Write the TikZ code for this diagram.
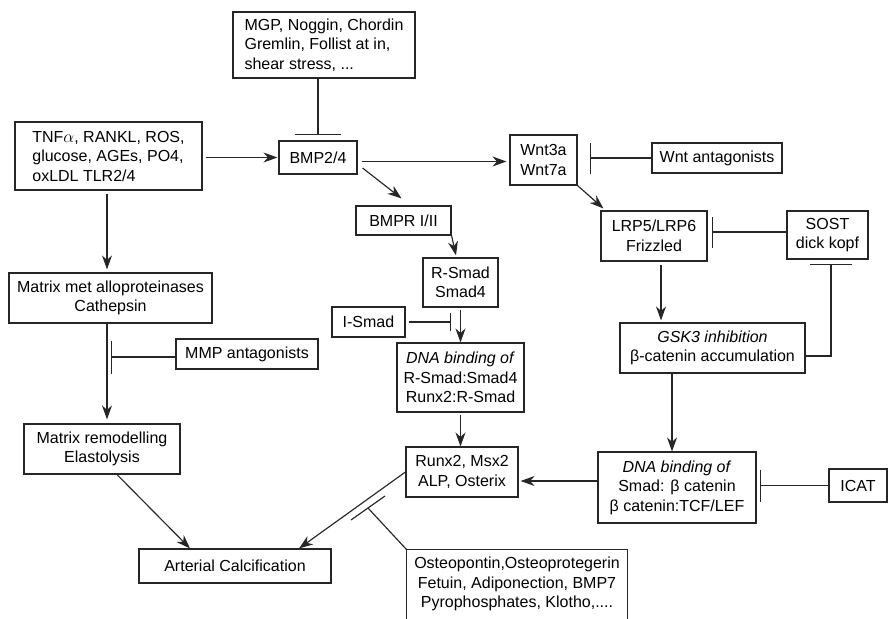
\documentclass[tikz,border=0pt]{standalone}
\usepackage{fontspec}
\setmainfont{Liberation Sans}
\usetikzlibrary{arrows.meta}
\begin{document}
\begin{tikzpicture}[x=1pt,y=-1pt,
 box/.style={draw=black!85, line width=1.15pt, inner sep=0pt, align=center, font=\fontsize{16}{19.5}\selectfont},
 arr/.style={draw=black!85, line width=1.15pt, -{Stealth[length=14pt,width=10pt,inset=4.5pt]}},
 inh/.style={draw=black!85, line width=1.15pt, -{Bar[width=#1]}},
 plain/.style={draw=black!85, line width=1.15pt}]
\useasboundingbox (0,0) rectangle (888,618);
% nodes
\node[box,align=left,minimum width=182pt,minimum height=66pt] (mgp) at (324,45) {MGP, Noggin, Chordin\\Gremlin, Follist at in,\\shear stress, ...};
\node[box,align=left,minimum width=187pt,minimum height=68pt] (tnf) at (108.5,156) {TNF$\alpha$, RANKL, ROS,\\glucose, AGEs, PO4,\\oxLDL TLR2/4};
\node[box,minimum width=78pt,minimum height=33pt] (bmp) at (318,157.5) {BMP2/4};
\node[box,minimum width=67pt,minimum height=50pt] (wnt) at (543.5,160) {Wnt3a\\Wnt7a};
\node[box,minimum width=130pt,minimum height=30pt] (wntant) at (717,158) {Wnt antagonists};
\node[box,minimum width=95pt,minimum height=29pt] (bmpr) at (403.5,220.5) {BMPR I/II};
\node[box,minimum width=106pt,minimum height=50pt] (lrp) at (654,236) {LRP5/LRP6\\Frizzled};
\node[box,minimum width=81pt,minimum height=48pt] (sost) at (827.5,235) {SOST\\dick kopf};
\node[box,minimum width=75pt,minimum height=49pt] (rsmad) at (460.5,282.5) {R-Smad\\Smad4};
\node[box,minimum width=73pt,minimum height=30pt] (ismad) at (368.5,322) {I-Smad};
\node[box,minimum width=203pt,minimum height=50pt] (mmpmet) at (110.5,298) {Matrix met alloproteinases\\Cathepsin};
\node[box,minimum width=142pt,minimum height=30pt] (mmpant) at (247,354) {MMP antagonists};
\node[box,minimum width=185pt,minimum height=50pt] (gsk) at (712.5,348) {\textit{GSK3 inhibition}\\β-catenin accumulation};
\node[box,minimum width=127pt,minimum height=69pt] (dnaa) at (460.5,377.5) {\textit{DNA binding of}\\R-Smad:Smad4\\Runx2:R-Smad};
\node[box,minimum width=156pt,minimum height=50pt] (remod) at (102,449) {Matrix remodelling\\Elastolysis};
\node[box,minimum width=112pt,minimum height=50pt] (runx) at (462,472) {Runx2, Msx2\\ALP, Osterix};
\node[box,minimum width=158pt,minimum height=71pt] (dnab) at (677,487.5) {\textit{DNA binding of}\\Smad: β catenin\\β catenin:TCF/LEF};
\node[box,minimum width=58pt,minimum height=33pt] (icat) at (858,485.5) {ICAT};
\node[box,minimum width=192pt,minimum height=34pt] (arter) at (235,566) {Arterial Calcification};
\node[box,draw=none,minimum width=220pt,minimum height=68pt] (osteo) at (517,584) {Osteopontin,Osteoprotegerin\\Fetuin, Adiponection, BMP7\\Pyrophosphates, Klotho,....};
\draw[plain] (osteo.south west) -- (osteo.north west) -- (osteo.north east) -- (osteo.south east);
% coordinates
\coordinate (isbar) at (451,322);
\coordinate (sl) at ([yshift=3pt]sost.west);
\coordinate (lg) at ([xshift=7pt]lrp.south);
\coordinate (gs) at ([yshift=-8pt]gsk.east);
\coordinate (sb) at ([xshift=3.5pt]sost.south);
\coordinate (gd) at ([xshift=-5pt]dnab.north);
\coordinate (rd) at ([yshift=-9pt]runx.east);
\coordinate (tm) at ([xshift=-1.5pt]tnf.south);
\coordinate (mr) at ([xshift=-3.5pt]mmpmet.south);
\coordinate (mmpbar) at (111,357);
\coordinate (obar) at (368,508);
% connectors
\draw[inh=46pt, shorten >=5pt] (mgp.south -| bmp.north) -- (bmp.north);
\draw[arr, shorten <=3pt, shorten >=1pt] (tnf.east |- bmp.west) -- (bmp.west);
\draw[arr, shorten <=4pt, shorten >=3pt] ([yshift=-4pt]bmp.east) -- ([yshift=-4pt]bmp.east -| wnt.west);
\draw[arr] ([shift={(5pt,-10.5pt)}]bmp.east) -- ([shift={(-2pt,7pt)}]bmpr.north);
\draw[arr] (bmpr.south east) -- ([shift={(-4.5pt,2pt)}]rsmad.north);
\draw[arr, shorten <=2pt] (rsmad.south) -- (dnaa.north);
\draw[arr, shorten <=2pt] (dnaa.south) -- (dnaa.south |- runx.north);
\draw[inh=18pt, shorten <=3pt] (ismad.east) -- (isbar);
\draw[inh=31pt, shorten >=12pt] (wntant.west) -- (wntant.west -| wnt.east);
\draw[arr] (wnt.south east) -- ([shift={(3pt,2pt)}]lrp.north west);
\draw[inh=31pt, shorten >=4pt] (sl) -- (sl -| lrp.east);
\draw[arr, shorten <=3pt, shorten >=2pt] (lg) -- (lg |- gsk.north);
\draw[inh=42pt, shorten >=4pt] (gs) -| (sb);
\draw[arr] (gd |- gsk.south) -- (gd);
\draw[arr, shorten >=2pt] (rd -| dnab.west) -- (rd);
\draw[inh=32pt, shorten >=3pt] (icat.west) -- (icat.west -| dnab.east);
\draw[arr, shorten <=3pt, shorten >=3pt] (tm) -- (tm |- mmpmet.north);
\draw[arr, shorten >=4pt] (mr) -- (mr |- remod.north);
\draw[inh=33pt] ([yshift=-3pt]mmpant.west) -- (mmpbar);
\draw[arr] ([xshift=15pt]remod.south) -- ([xshift=-45pt]arter.north);
\draw[arr] (runx.west) -- ([xshift=64pt]arter.north);
\draw[plain] (osteo.north west) -- (obar);
\draw[plain] ([shift={(-17pt,-12pt)}]obar) -- ([shift={(17pt,12pt)}]obar);
\end{tikzpicture}
\end{document}
